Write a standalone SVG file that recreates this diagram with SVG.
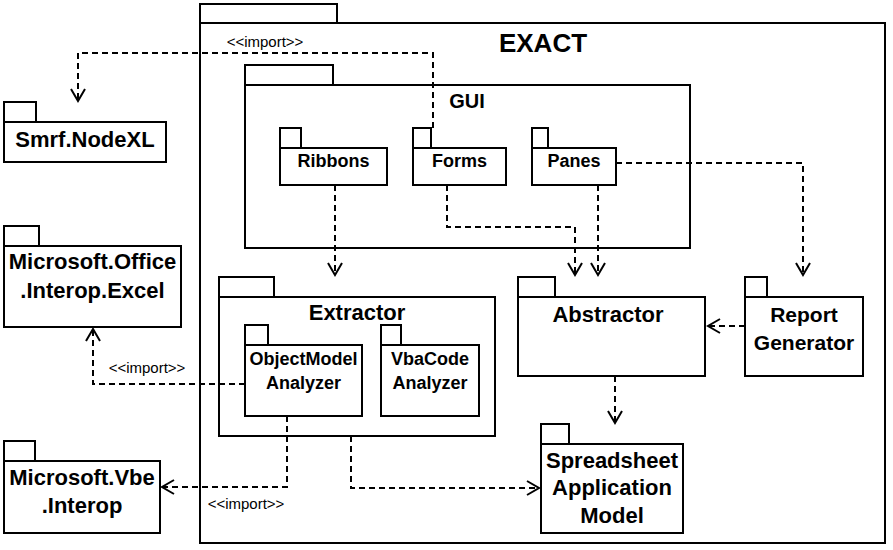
<svg xmlns="http://www.w3.org/2000/svg" width="893" height="550" viewBox="0 0 893 550">
<style>
.box{fill:#fff;stroke:#000;stroke-width:2}
.t{font-family:"Liberation Sans",Arial,sans-serif;font-weight:bold;fill:#000;text-anchor:middle}
.big{font-size:22px}
.sm{font-size:18px}
.lbl{font-family:"Liberation Sans",Arial,sans-serif;font-size:15px;fill:#000;text-anchor:middle}
.c{fill:none;stroke:#000;stroke-width:2;stroke-dasharray:6 4}
</style>
<defs>
<marker id="arr" viewBox="-14 -9 16 18" refX="0" refY="0" markerWidth="16" markerHeight="18" markerUnits="userSpaceOnUse" orient="auto">
<path d="M-12,-7 L0,0 L-12,7" fill="none" stroke="#000" stroke-width="2" stroke-dasharray="none"/>
</marker>
</defs>
<rect width="893" height="550" fill="#fff"/>
<g id="EXACT">
<rect class="box" x="200" y="4" width="137" height="19"/>
<rect class="box" x="200" y="23" width="685" height="520"/>
<text class="t" x="543" y="52" font-size="26">EXACT</text>
</g>
<g id="GUI">
<rect class="box" x="245" y="65" width="88" height="20"/>
<rect class="box" x="245" y="85" width="445" height="163"/>
<text class="t" x="467" y="108" font-size="20">GUI</text>
</g>
<g id="Ribbons">
<rect class="box" x="280" y="128" width="21" height="20"/>
<rect class="box" x="280" y="148" width="107" height="37"/>
<text class="t sm" x="333.5" y="167">Ribbons</text>
</g>
<g id="Forms">
<rect class="box" x="413" y="128" width="18" height="20"/>
<rect class="box" x="413" y="148" width="93" height="37"/>
<text class="t sm" x="459.5" y="167">Forms</text>
</g>
<g id="Panes">
<rect class="box" x="532" y="128" width="16" height="20"/>
<rect class="box" x="532" y="148" width="84" height="37"/>
<text class="t sm" x="574" y="167">Panes</text>
</g>
<g id="Extractor">
<rect class="box" x="219" y="277" width="55" height="20"/>
<rect class="box" x="219" y="297" width="276" height="139"/>
<text class="t big" x="357" y="320">Extractor</text>
</g>
<g id="ObjectModelAnalyzer">
<rect class="box" x="245" y="325" width="23" height="20"/>
<rect class="box" x="245" y="345" width="117" height="71"/>
<text class="t sm" x="303.5" y="365">ObjectModel</text>
<text class="t sm" x="303.5" y="389">Analyzer</text>
</g>
<g id="VbaCodeAnalyzer">
<rect class="box" x="381" y="325" width="20" height="20"/>
<rect class="box" x="381" y="345" width="98" height="71"/>
<text class="t sm" x="430" y="365">VbaCode</text>
<text class="t sm" x="430" y="389">Analyzer</text>
</g>
<g id="Abstractor">
<rect class="box" x="518" y="277" width="37" height="20"/>
<rect class="box" x="518" y="297" width="187" height="79"/>
<text class="t big" x="608" y="322">Abstractor</text>
</g>
<g id="ReportGenerator">
<rect class="box" x="745" y="277" width="22" height="20"/>
<rect class="box" x="745" y="297" width="118" height="79"/>
<text class="t" font-size="21" x="804" y="322">Report</text>
<text class="t" font-size="21" x="804" y="350">Generator</text>
</g>
<g id="SpreadsheetApplicationModel">
<rect class="box" x="541" y="424" width="28" height="20"/>
<rect class="box" x="541" y="444" width="142" height="89"/>
<text class="t big" x="612" y="468">Spreadsheet</text>
<text class="t big" x="612" y="495">Application</text>
<text class="t big" x="612" y="523">Model</text>
</g>
<g id="SmrfNodeXL">
<rect class="box" x="4" y="102" width="32" height="20"/>
<rect class="box" x="4" y="122" width="162" height="40"/>
<text class="t big" x="85" y="147">Smrf.NodeXL</text>
</g>
<g id="MicrosoftOfficeInteropExcel">
<rect class="box" x="4" y="226" width="35" height="20"/>
<rect class="box" x="4" y="246" width="177" height="81"/>
<text class="t big" x="92.5" y="269">Microsoft.Office</text>
<text class="t big" x="92.5" y="298">.Interop.Excel</text>
</g>
<g id="MicrosoftVbeInterop">
<rect class="box" x="4" y="441" width="31" height="20"/>
<rect class="box" x="4" y="461" width="156" height="72"/>
<text class="t big" x="82" y="485">Microsoft.Vbe</text>
<text class="t big" x="82" y="513">.Interop</text>
</g>
<g id="connectors">
<path class="c" d="M433,128 V53 H78 V101" marker-end="url(#arr)"/>
<path class="c" d="M335,185 V275" marker-end="url(#arr)"/>
<path class="c" d="M447,185 V227 H575 V275" marker-end="url(#arr)"/>
<path class="c" d="M598,185 V275" marker-end="url(#arr)"/>
<path class="c" d="M616,163 H803 V275" marker-end="url(#arr)"/>
<path class="c" d="M745,326 H708" marker-end="url(#arr)"/>
<path class="c" d="M615,376 V423" marker-end="url(#arr)"/>
<path class="c" d="M245,384 H93 V329" marker-end="url(#arr)"/>
<path class="c" d="M287,416 V487 H162" marker-end="url(#arr)"/>
<path class="c" d="M351,436 V488 H539" marker-end="url(#arr)"/>
<text class="lbl" x="265" y="47">&lt;&lt;import&gt;&gt;</text>
<text class="lbl" x="147" y="373">&lt;&lt;import&gt;&gt;</text>
<text class="lbl" x="246" y="509">&lt;&lt;import&gt;&gt;</text>
</g>
</svg>
